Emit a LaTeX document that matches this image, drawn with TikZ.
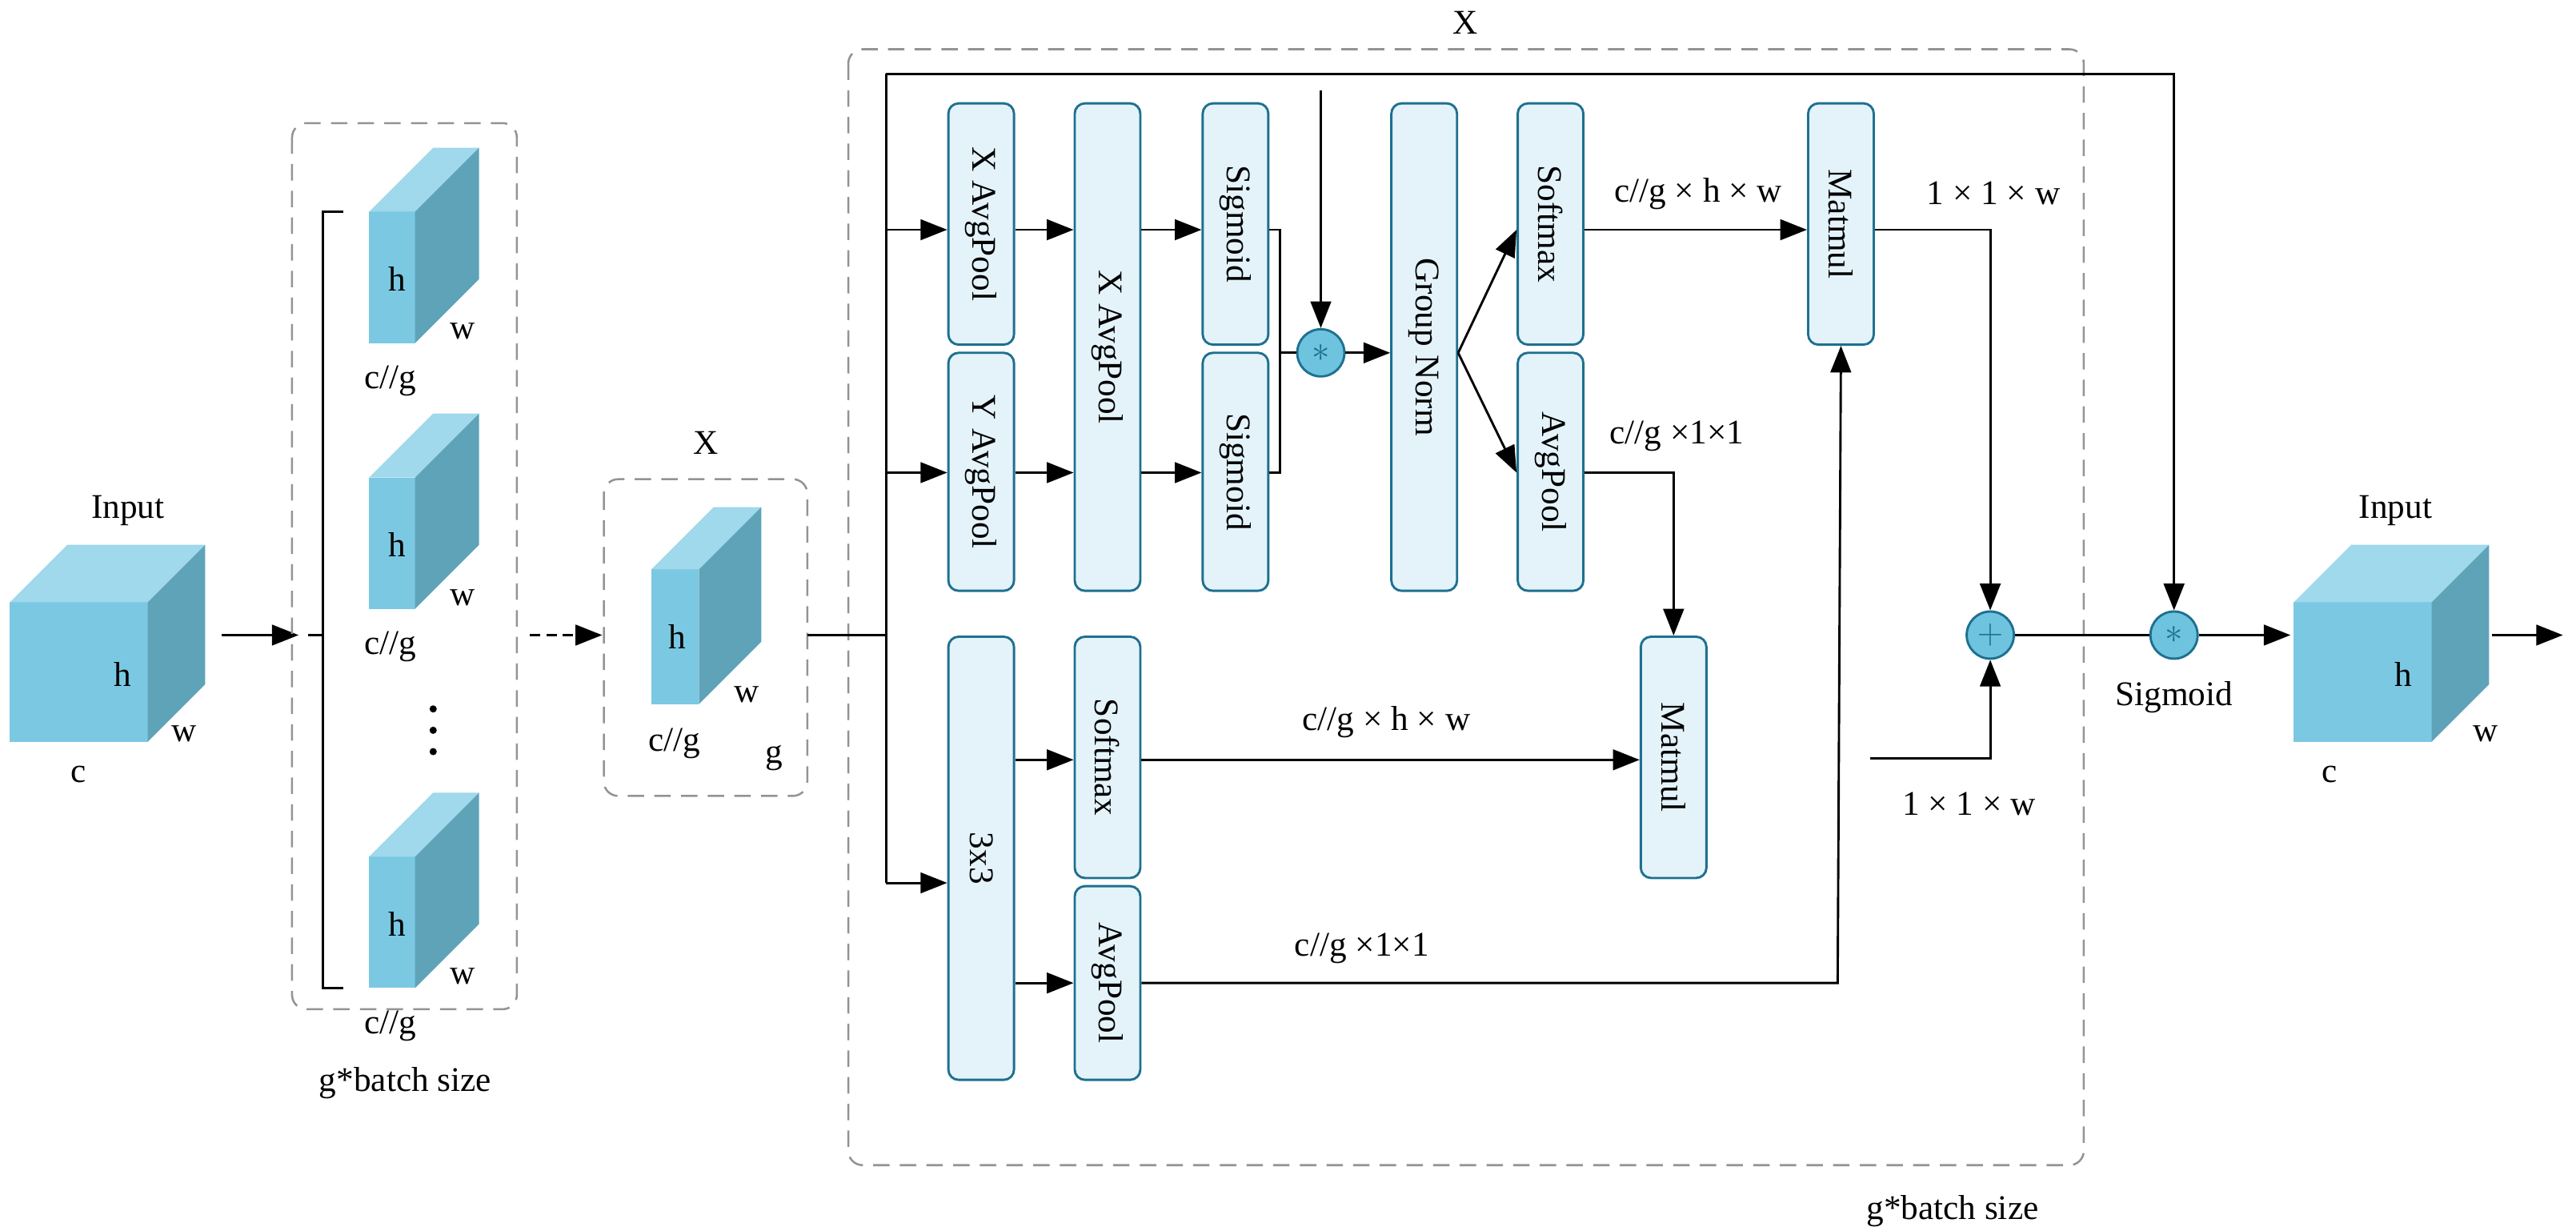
\documentclass[tikz,border=0pt]{standalone}
\usepackage{fontspec}
\setmainfont{Liberation Serif}
\usetikzlibrary{arrows.meta,calc}
\definecolor{bfill}{HTML}{E4F3FA}
\definecolor{bdraw}{HTML}{1E7090}
\definecolor{cfill}{HTML}{6EC3DF}
\definecolor{cfront}{HTML}{7BC8E2}
\definecolor{ctop}{HTML}{A0D8EC}
\definecolor{cside}{HTML}{5FA3B9}
\newcommand\mycube[5]{%
  \fill[cfront] (#1,#2) rectangle ++(#3,#4);
  \fill[ctop] (#1,#2) -- ++(#5,-#5) -- ++(#3,0) -- ++(-#5,#5) -- cycle;
  \fill[cside] (#1+#3,#2) -- ++(#5,-#5) -- ++(0,#4) -- ++(-#5,#5) -- cycle;}
\begin{document}
\begin{tikzpicture}[x=0.04cm,y=-0.04cm,
  font=\rmfamily\fontsize{24}{28}\selectfont,
  arr/.style={line width=1.6pt,-{Triangle[length=0.65cm,width=0.5cm]}},
  ln/.style={line width=1.6pt},
  dbox/.style={draw=gray!85,line width=1.4pt,dash pattern=on 0.4cm off 0.25cm,rounded corners=0.35cm},
  box/.style={draw=bdraw,fill=bfill,line width=1.6pt,rounded corners=0.25cm,minimum width=1.6cm,minimum height=#1,inner sep=0pt},
  op/.style={circle,draw=bdraw,fill=cfill,line width=1.6pt,minimum size=1.15cm,inner sep=0pt,text=bdraw}]
\useasboundingbox (0,0) rectangle (1570,750);
% left input
\mycube{6}{367}{84}{85}{35}
\node (in1) at (78,311) {Input};
\node (h0) at (75,411) {h};
\node (w0) at (112,447) {w};
\node (c0) at (48,472) {c};
\draw[arr] (135,387) -- (182,387);
\draw[ln] (209,129) -- (197,129) -- (197,602) -- (209,602);
\draw[ln] (188,387) -- (197,387);
% group box
\draw[dbox] (178,75) rectangle (315,615);
\node at (247,660) {g*batch size};
\foreach \hy in {170,332,563}{
  \mycube{225}{\hy-41}{28}{80}{39}
  \node at (242,\hy) {h};
  \node at (282,\hy+32) {w};
  \node at (238,\hy+62) {c//g};}
\foreach \dy in {432,445,458} \fill (264,\dy) circle (2.2);
\draw[arr,dash pattern=on 0.25cm off 0.15cm] (323,387) -- (367,387);
% X
\draw[dbox] (368,292) rectangle (492,485);
\node at (430,270) {X};
\mycube{397}{347}{29}{82}{38}
\node at (413,388) {h};
\node at (455,423) {w};
\node at (411,453) {c//g};
\node at (472,462) {g};
% big box
\draw[dbox] (517,30) rectangle (1270,710);
\node at (893,14) {X};
\node at (1190,738) {g*batch size};
% boxes
\node[box=5.88cm] (xap1) at (598,136.5) {\rotatebox{-90}{X AvgPool}};
\node[box=5.8cm] (yap1) at (598,287.5) {\rotatebox{-90}{Y AvgPool}};
\node[box=11.88cm] (xap2) at (675,211.5) {\rotatebox{-90}{X AvgPool}};
\node[box=5.88cm] (sig1) at (753,136.5) {\rotatebox{-90}{Sigmoid}};
\node[box=5.8cm] (sig2) at (753,287.5) {\rotatebox{-90}{Sigmoid}};
\node[box=11.88cm] (gn) at (868,211.5) {\rotatebox{-90}{Group Norm}};
\node[box=5.88cm] (sm1) at (945,136.5) {\rotatebox{-90}{Softmax}};
\node[box=5.8cm] (ap1) at (945,287.5) {\rotatebox{-90}{AvgPool}};
\node[box=5.88cm] (mm1) at (1122,136.5) {\rotatebox{-90}{Matmul}};
\node[box=5.88cm] (mm2) at (1020,461.5) {\rotatebox{-90}{Matmul}};
\node[box=10.8cm] (c33) at (598,523) {\rotatebox{-90}{3x3}};
\node[box=5.88cm] (sm2) at (675,461.5) {\rotatebox{-90}{Softmax}};
\node[box=4.72cm] (ap2) at (675,599) {\rotatebox{-90}{AvgPool}};
\node[op] (mul1) at (805,215) {$\ast$};
\node[op] (plus) at (1213,387) {$+$};
\node[op] (mul2) at (1325,387) {$\ast$};
% split
\coordinate (sp) at (540,387);
\coordinate (top) at (540,45);
\draw[ln] (492,387) -- (sp);
\draw[ln] (top) -- (540,538);
\draw[arr] (540,140) -- (xap1.west |- 0,140);
\draw[arr] (540,288) -- (yap1.west |- 0,288);
\draw[arr] (540,538) -- (c33.west |- 0,538);
\draw[arr] (top) -| (mul2.north);
\draw[arr] (xap1.east |- 0,140) -- (xap2.west |- 0,140);
\draw[arr] (yap1.east |- 0,288) -- (xap2.west |- 0,288);
\draw[arr] (xap2.east |- 0,140) -- (sig1.west |- 0,140);
\draw[arr] (xap2.east |- 0,288) -- (sig2.west |- 0,288);
\draw[ln] (sig1.east |- 0,140) -- (780,140) -- (780,288) -- (sig2.east |- 0,288);
\draw[ln] (780,215) -- (mul1.west);
\draw[arr] (805,55) -- (mul1.north);
\draw[arr] (mul1.east) -- (gn.west |- mul1);
\coordinate (gnr) at (gn.east |- mul1);
\draw[arr] (gnr) -- (sm1.west |- 0,140);
\draw[arr] (gnr) -- (ap1.west |- 0,288);
\draw[arr] (sm1.east |- 0,140) -- (mm1.west |- 0,140);
\node at (1035,118) {c//g × h × w};
\draw[arr] (ap1.east |- 0,288) -- (mm2.north |- 0,288) -- (mm2.north);
\node at (1022,266) {c//g ×1×1};
\draw[arr] (c33.east |- 0,463) -- (sm2.west |- 0,463);
\draw[arr] (c33.east |- 0,599) -- (ap2.west |- 0,599);
\draw[arr] (sm2.east |- 0,463) -- (mm2.west |- 0,463);
\node at (845,440) {c//g × h × w};
\draw[arr] (ap2.east |- 0,599) -- (1120,599) -- (mm1.south);
\node at (830,578) {c//g ×1×1};
\draw[arr] (mm1.east |- 0,140) -- (plus.north |- 0,140) -- (plus.north);
\node at (1215,118) {1 × 1 × w};
\coordinate (lw) at (1140,462);
\draw[arr] (lw) -| (plus.south);
\node at (1200,490) {1 × 1 × w};
\draw[ln] (plus.east) -- (mul2.west);
\node at (1325,425) {Sigmoid};
% output
\mycube{1398}{367}{84}{85}{35}
\draw[arr] (mul2.east) -- (1396,387);
\node at (1460,311) {Input};
\node at (1465,411) {h};
\node at (1420,472) {c};
\node at (1515,447) {w};
\coordinate (oe) at (1562,387);
\draw[arr] (1519,387) -- (oe);
\end{tikzpicture}
\end{document}
